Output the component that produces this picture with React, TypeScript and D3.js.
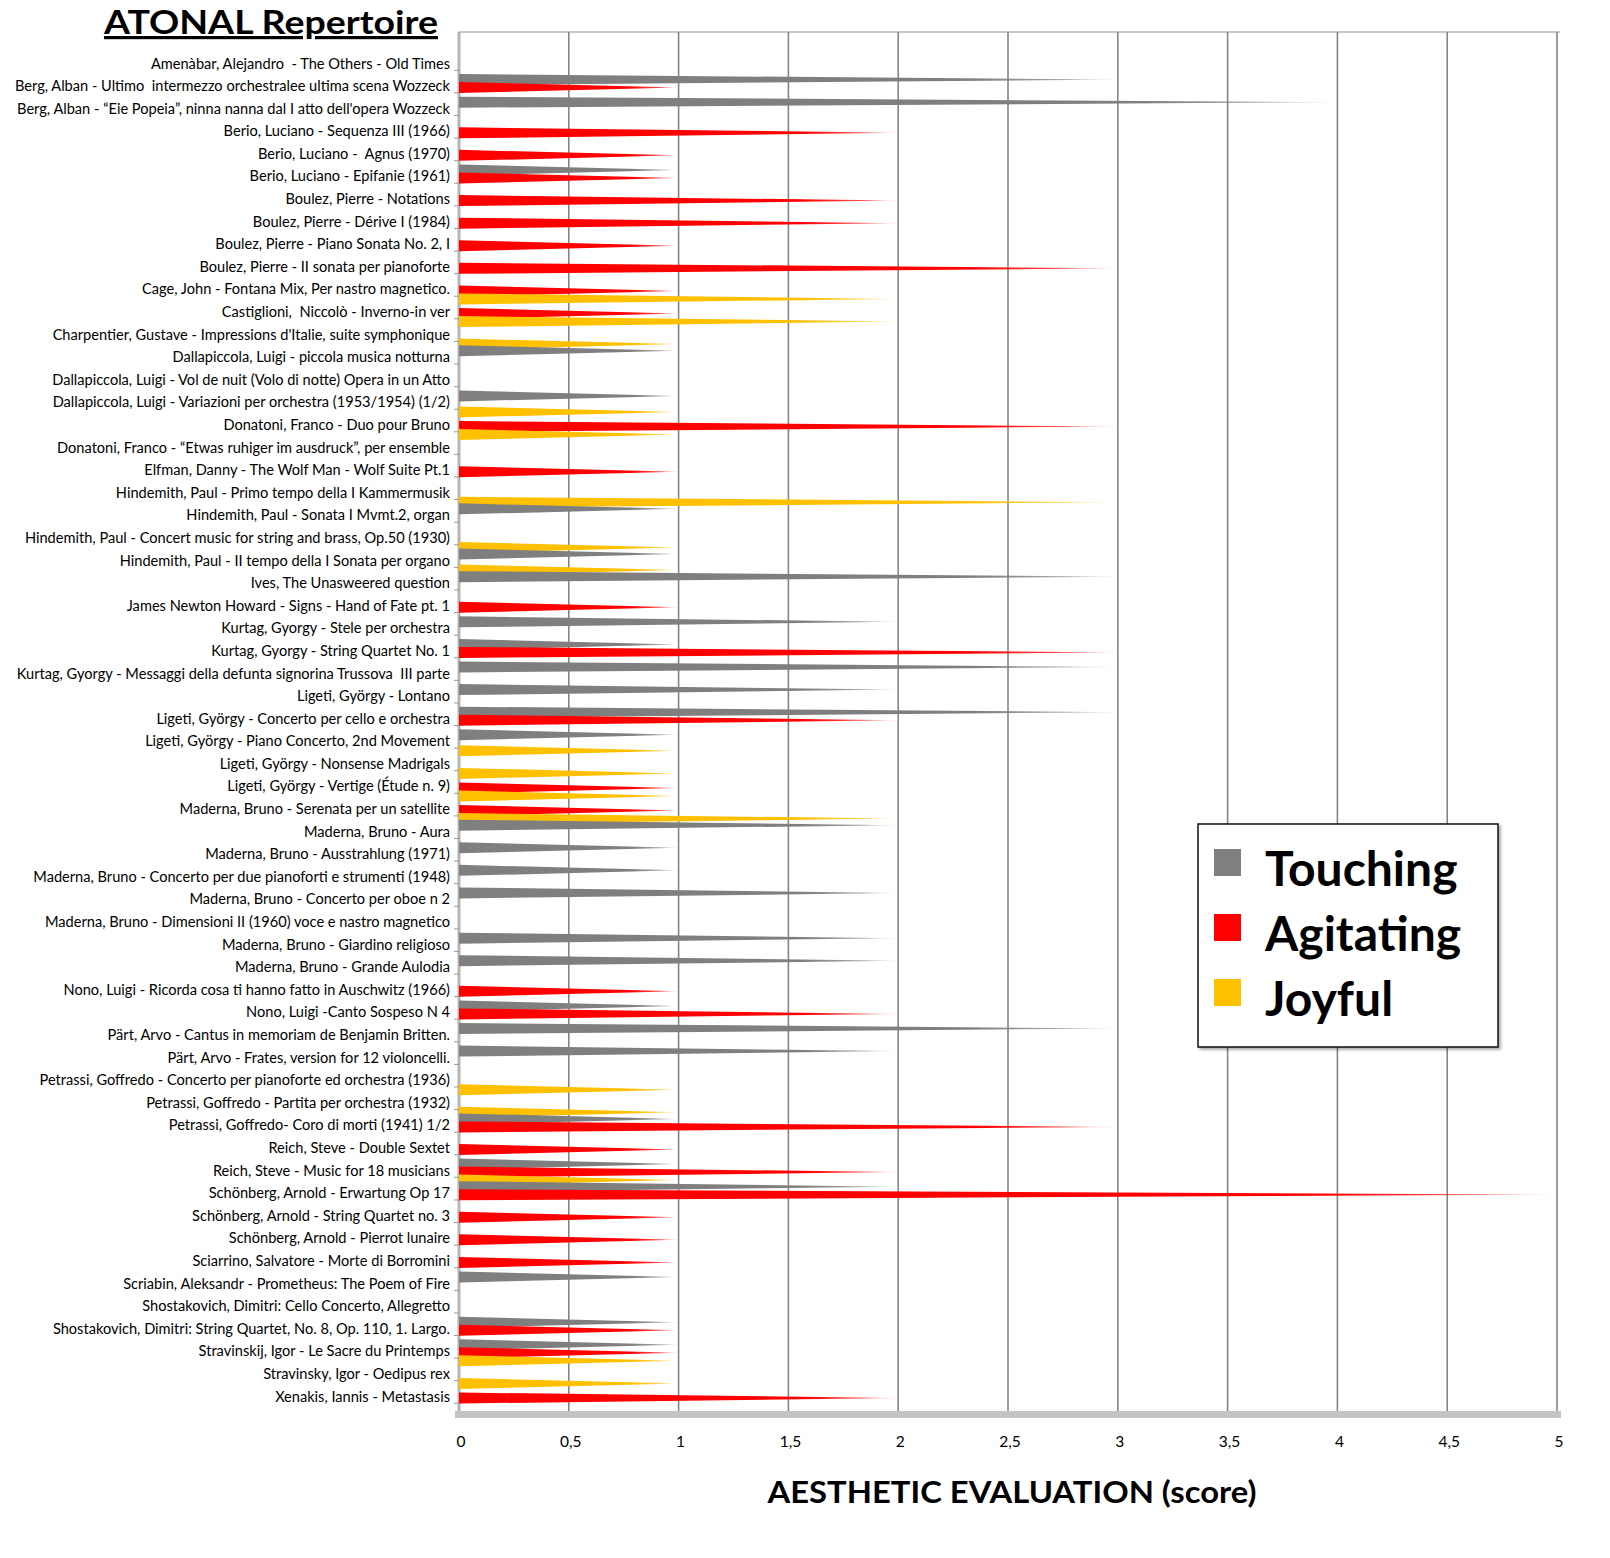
import { useMemo } from "react";
import * as d3 from "d3";

// Chart geometry
const WIDTH = 1600;
const HEIGHT = 1550;
const PLOT = { left: 459, right: 1557, top: 32, bottom: 1413 };
// label centres run from the first to the last category
const LABEL_TOP = 63;
const LABEL_BOTTOM = 1396;
const BAR_BASE = 11; // thickness of the cone at x = 0
const FONT = "Lato, 'Open Sans', sans-serif";

const CATEGORIES = [
  "Amenàbar, Alejandro  - The Others - Old Times",
  "Berg, Alban - Ultimo  intermezzo orchestralee ultima scena Wozzeck",
  "Berg, Alban - “Eie Popeia”, ninna nanna dal I atto dell'opera Wozzeck",
  "Berio, Luciano - Sequenza III (1966)",
  "Berio, Luciano -  Agnus (1970)",
  "Berio, Luciano - Epifanie (1961)",
  "Boulez, Pierre - Notations",
  "Boulez, Pierre - Dérive I (1984)",
  "Boulez, Pierre - Piano Sonata No. 2, I",
  "Boulez, Pierre - II sonata per pianoforte",
  "Cage, John - Fontana Mix, Per nastro magnetico.",
  "Castiglioni,  Niccolò - Inverno-in ver",
  "Charpentier, Gustave - Impressions d'Italie, suite symphonique",
  "Dallapiccola, Luigi - piccola musica notturna",
  "Dallapiccola, Luigi - Vol de nuit (Volo di notte) Opera in un Atto",
  "Dallapiccola, Luigi - Variazioni per orchestra (1953/1954) (1/2)",
  "Donatoni, Franco - Duo pour Bruno",
  "Donatoni, Franco - “Etwas ruhiger im ausdruck”, per ensemble",
  "Elfman, Danny - The Wolf Man - Wolf Suite Pt.1",
  "Hindemith, Paul - Primo tempo della I Kammermusik",
  "Hindemith, Paul - Sonata I Mvmt.2, organ",
  "Hindemith, Paul - Concert music for string and brass, Op.50 (1930)",
  "Hindemith, Paul - II tempo della I Sonata per organo",
  "Ives, The Unasweered question",
  "James Newton Howard - Signs - Hand of Fate pt. 1",
  "Kurtag, Gyorgy - Stele per orchestra",
  "Kurtag, Gyorgy - String Quartet No. 1",
  "Kurtag, Gyorgy - Messaggi della defunta signorina Trussova  III parte",
  "Ligeti, György - Lontano",
  "Ligeti, György - Concerto per cello e orchestra",
  "Ligeti, György - Piano Concerto, 2nd Movement",
  "Ligeti, György - Nonsense Madrigals",
  "Ligeti, György - Vertige (Étude n. 9)",
  "Maderna, Bruno - Serenata per un satellite",
  "Maderna, Bruno - Aura",
  "Maderna, Bruno - Ausstrahlung (1971)",
  "Maderna, Bruno - Concerto per due pianoforti e strumenti (1948)",
  "Maderna, Bruno - Concerto per oboe n 2",
  "Maderna, Bruno - Dimensioni II (1960) voce e nastro magnetico",
  "Maderna, Bruno - Giardino religioso",
  "Maderna, Bruno - Grande Aulodia",
  "Nono, Luigi - Ricorda cosa ti hanno fatto in Auschwitz (1966)",
  "Nono, Luigi -Canto Sospeso N 4",
  "Pärt, Arvo - Cantus in memoriam de Benjamin Britten.",
  "Pärt, Arvo - Frates, version for 12 violoncelli.",
  "Petrassi, Goffredo - Concerto per pianoforte ed orchestra (1936)",
  "Petrassi, Goffredo - Partita per orchestra (1932)",
  "Petrassi, Goffredo- Coro di morti (1941) 1/2",
  "Reich, Steve - Double Sextet",
  "Reich, Steve - Music for 18 musicians",
  "Schönberg, Arnold - Erwartung Op 17",
  "Schönberg, Arnold - String Quartet no. 3",
  "Schönberg, Arnold - Pierrot lunaire",
  "Sciarrino, Salvatore - Morte di Borromini",
  "Scriabin, Aleksandr - Prometheus: The Poem of Fire",
  "Shostakovich, Dimitri: Cello Concerto, Allegretto",
  "Shostakovich, Dimitri: String Quartet, No. 8, Op. 110, 1. Largo.",
  "Stravinskij, Igor - Le Sacre du Printemps",
  "Stravinsky, Igor - Oedipus rex",
  "Xenakis, Iannis - Metastasis",
];

// scores per category, same order as CATEGORIES
const TOUCHING = [
  0, 3, 4, 0, 0, 1, 0, 0, 0, 0,
  0, 0, 0, 1, 0, 1, 0, 0, 0, 0,
  1, 0, 1, 3, 0, 2, 1, 3, 2, 3,
  1, 0, 0, 0, 2, 1, 1, 2, 0, 2,
  2, 0, 1, 3, 2, 0, 0, 1, 0, 1,
  2, 0, 0, 0, 1, 0, 1, 1, 0, 0,
];
const AGITATING = [
  0, 1, 0, 2, 1, 1, 2, 2, 1, 3,
  1, 1, 0, 0, 0, 0, 3, 0, 1, 0,
  0, 0, 0, 0, 1, 0, 3, 0, 0, 2,
  0, 0, 1, 1, 0, 0, 0, 0, 0, 0,
  0, 1, 2, 0, 0, 0, 0, 3, 1, 2,
  5, 1, 1, 1, 0, 0, 1, 1, 0, 2,
];
const JOYFUL = [
  0, 0, 0, 0, 0, 0, 0, 0, 0, 0,
  2, 2, 1, 0, 0, 1, 1, 0, 0, 3,
  0, 1, 1, 0, 0, 0, 0, 0, 0, 0,
  1, 1, 1, 2, 0, 0, 0, 0, 0, 0,
  0, 0, 0, 0, 0, 1, 1, 0, 0, 1,
  0, 0, 0, 0, 0, 0, 0, 1, 1, 0,
];

const SERIES_NAMES = ["Touching", "Agitating", "Joyful"];
const SERIES_COLORS = ["#7f7f7f", "#ff0000", "#ffc000"];
const X_TICKS = [0, 0.5, 1, 1.5, 2, 2.5, 3, 3.5, 4, 4.5, 5];

export default function App() {
  const seriesValues = [TOUCHING, AGITATING, JOYFUL];

  const xScale = useMemo(
    () => d3.scaleLinear().domain([0, 5]).range([PLOT.left, PLOT.right]),
    []
  );

  // one band per category, centred on the label positions
  const yScale = useMemo(() => {
    const step = (LABEL_BOTTOM - LABEL_TOP) / (CATEGORIES.length - 1);
    return d3
      .scaleBand<string>()
      .domain(CATEGORIES)
      .range([LABEL_TOP - step / 2, LABEL_BOTTOM + step / 2])
      .padding(0);
  }, []);

  // series positions inside a category (offset relative to label centre)
  const subScale = useMemo(
    () => d3.scaleBand<string>().domain(SERIES_NAMES).range([-10, 14]),
    []
  );

  const cone = (value: number, cy: number) => {
    const x0 = xScale(0);
    const x1 = xScale(value);
    const p = d3.path();
    p.moveTo(x0, cy - BAR_BASE / 2);
    p.lineTo(x1, cy);
    p.lineTo(x0, cy + BAR_BASE / 2);
    p.closePath();
    return p.toString();
  };

  const band = yScale.bandwidth();

  return (
    <svg
      width={WIDTH}
      height={HEIGHT}
      style={{ position: "absolute", left: 0, top: 0, background: "#fff" }}
      fontFamily={FONT}
    >
      <defs>
        {SERIES_NAMES.map((name, i) => (
          <linearGradient key={name} id={`fade-${i}`} x1="0" x2="1" y1="0" y2="0">
            <stop offset="0" stopColor={SERIES_COLORS[i]} stopOpacity={1} />
            <stop offset="0.78" stopColor={SERIES_COLORS[i]} stopOpacity={1} />
            <stop offset="0.92" stopColor={SERIES_COLORS[i]} stopOpacity={0.7} />
            <stop offset="1" stopColor={SERIES_COLORS[i]} stopOpacity={0.2} />
          </linearGradient>
        ))}
        <filter id="shadow" x="-5%" y="-5%" width="115%" height="115%">
          <feDropShadow dx="2" dy="2" stdDeviation="1.5" floodColor="#000" floodOpacity="0.35" />
        </filter>
      </defs>

      {/* Title */}
      <text
        x={271}
        y={34}
        textAnchor="middle"
        fontSize={32}
        fontWeight={700}
        textDecoration="underline"
        textLength={334}
        lengthAdjust="spacingAndGlyphs"
      >
        ATONAL Repertoire
      </text>

      {/* Top edge and vertical gridlines */}
      <line x1={PLOT.left} x2={PLOT.right + 3} y1={PLOT.top} y2={PLOT.top} stroke="#c8c8c8" strokeWidth={2} />
      {X_TICKS.map((t) => (
        <line
          key={t}
          x1={xScale(t)}
          x2={xScale(t)}
          y1={PLOT.top}
          y2={PLOT.bottom}
          stroke={t === 0 ? "#b5b5b5" : "#858585"}
          strokeWidth={t === 0 ? 3 : 1.6}
        />
      ))}

      {/* Category axis ticks */}
      {CATEGORIES.map((c) => (
        <line
          key={c}
          x1={PLOT.left - 5}
          x2={PLOT.left}
          y1={(yScale(c) ?? 0) + band - 4}
          y2={(yScale(c) ?? 0) + band - 4}
          stroke="#999"
          strokeWidth={1}
        />
      ))}

      {/* Floor of the 3D plot */}
      <rect x={PLOT.left - 4} y={PLOT.bottom - 2} width={PLOT.right - PLOT.left + 8} height={7} fill="#c4c4c4" />

      {/* Cones */}
      {CATEGORIES.map((c, ci) => {
        const cy = (yScale(c) ?? 0) + band / 2;
        return (
          <g key={c}>
            {SERIES_NAMES.map((s, si) => {
              const v = seriesValues[si][ci];
              if (!v) return null;
              const y = cy + (subScale(s) ?? 0) + subScale.bandwidth() / 2;
              return <path key={s} d={cone(v, y)} fill={`url(#fade-${si})`} />;
            })}
          </g>
        );
      })}

      {/* Category labels */}
      {CATEGORIES.map((c) => (
        <text
          key={c}
          x={PLOT.left - 9}
          y={(yScale(c) ?? 0) + band / 2}
          textAnchor="end"
          dominantBaseline="central"
          fontSize={14.6}
          fill="#000"
          style={{ whiteSpace: "pre" }}
        >
          {c}
        </text>
      ))}

      {/* X tick labels */}
      {X_TICKS.map((t) => (
        <text key={t} x={xScale(t) + 2} y={1441} textAnchor="middle" dominantBaseline="central" fontSize={15.5} fill="#000">
          {String(t).replace(".", ",")}
        </text>
      ))}

      {/* X axis title */}
      <text
        x={1012}
        y={1503}
        textAnchor="middle"
        fontSize={30}
        fontWeight={700}
        textLength={489}
        lengthAdjust="spacingAndGlyphs"
      >
        AESTHETIC EVALUATION (score)
      </text>

      {/* Legend */}
      <g>
        <rect x={1198} y={824} width={300} height={223} fill="#fff" stroke="#111" strokeWidth={1.5} filter="url(#shadow)" />
        {SERIES_NAMES.map((s, i) => (
          <g key={s} transform={`translate(0, ${i * 65})`}>
            <rect x={1214} y={849} width={27} height={27} fill={SERIES_COLORS[i]} />
            <text x={1265} y={886} fontSize={48} fontWeight={700} fill="#000">
              {s}
            </text>
          </g>
        ))}
      </g>
    </svg>
  );
}
